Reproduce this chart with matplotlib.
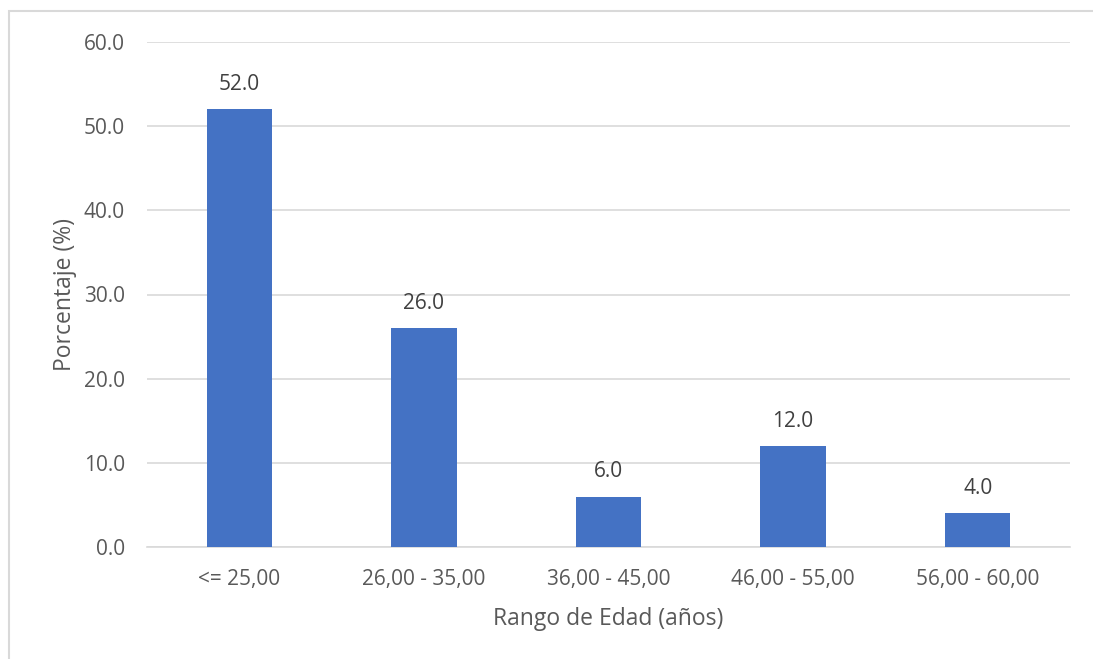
import matplotlib
matplotlib.use("Agg")
import matplotlib.pyplot as plt
from matplotlib.patches import Rectangle

categories = ["<= 25,00", "26,00 - 35,00", "36,00 - 45,00", "46,00 - 55,00", "56,00 - 60,00"]
values = [52.0, 26.0, 6.0, 12.0, 4.0]
yticks = [0, 10, 20, 30, 40, 50, 60]

plt.rcParams['font.family'] = ['Open Sans', 'DejaVu Sans']
W, H = 1093, 659
fig = plt.figure(figsize=(W/100, H/100), dpi=100)
fig.patch.set_facecolor("white")

# outer chart border
fig.patches.append(Rectangle((9/W, -0.05), 1.1, 1 - 11/H + 0.05, transform=fig.transFigure,
                             fill=False, edgecolor="#d9d9d9", linewidth=1.5))

ax = fig.add_axes([147/W, 1 - 547/H, (1070-147)/W, (547-42)/H])
x = list(range(len(categories)))
ax.bar(x, values, width=0.355, color="#4472c4", zorder=3)
for xi, v in zip(x, values):
    ax.text(xi, v + 1.7, f"{v:.1f}", ha="center", va="bottom", fontsize=15, color="#404040")

ax.set_xlim(-0.5, len(categories) - 0.5)
ax.set_ylim(0, 60)
ax.set_yticks(yticks)
ax.set_yticklabels([f"{t:.1f}" for t in yticks])
ax.set_xticks(x)
ax.set_xticklabels(categories)
ax.tick_params(axis="both", length=0, labelsize=15, colors="#595959")
ax.tick_params(axis="x", pad=16)
ax.tick_params(axis="y", pad=16)
ax.grid(axis="y", color="#d9d9d9", linewidth=1.2, zorder=0)
for s in ["top", "right", "left"]:
    ax.spines[s].set_visible(False)
ax.spines["bottom"].set_color("#d9d9d9")
ax.spines["bottom"].set_linewidth(1.2)

ax.set_xlabel("Rango de Edad (años)", fontsize=16.5, color="#595959", labelpad=12)
ax.set_ylabel("Porcentaje (%)", fontsize=16.5, color="#595959", labelpad=5)

fig.savefig("out.png", dpi=100, facecolor="white")
